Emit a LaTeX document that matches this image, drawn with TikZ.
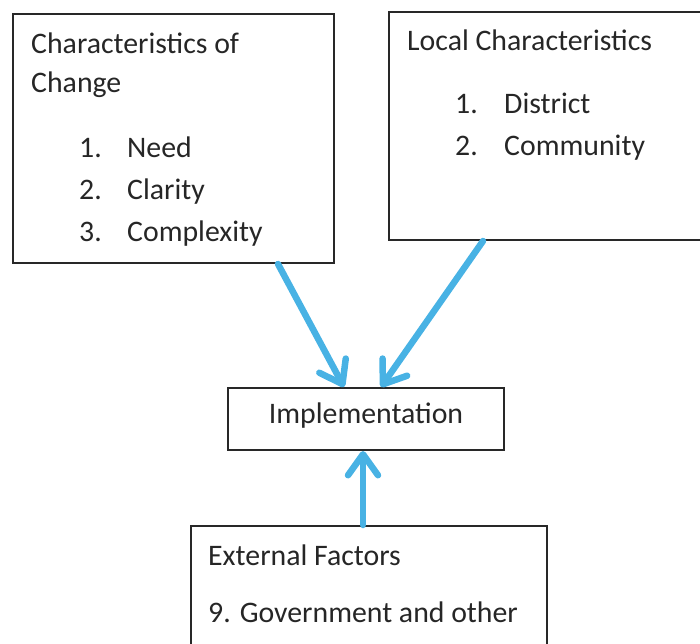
\documentclass[tikz,border=0pt]{standalone}
\usepackage{fontspec}
\setmainfont{Carlito}
\usetikzlibrary{arrows.meta}
\definecolor{arrowblue}{RGB}{72,178,228}
\definecolor{boxline}{RGB}{40,40,40}
\begin{document}
\begin{tikzpicture}[x=1pt,y=-1pt,
  box/.style={draw=boxline, line width=2pt, inner sep=0pt, anchor=north west},
  txt/.style={anchor=base west, inner sep=0pt, font=\fontsize{29.8}{35}\selectfont, text=black!85},
  flow/.style={draw=arrowblue, line width=6.5pt, line cap=round,
    -{Straight Barb[length=21pt,width=30pt,line cap=round,line join=round]}}]
\useasboundingbox (0,0) rectangle (700,643);

% boxes
\node[box, minimum width=321pt, minimum height=249pt] (chg) at (12,13) {};
\node[box, minimum width=314pt, minimum height=228pt] (loc) at (388,11) {};
\node[box, minimum width=276pt, minimum height=62pt] (impl) at (227,387) {};
\node[box, minimum width=356pt, minimum height=135pt] (ext) at (190,525) {};

% characteristics of change
\node[txt] (chgA) at (31,53) {Characteristics of};
\node[txt] (chgB) at (31,92) {Change};
\node[txt] (n1) at (79,157) {1.};
\node[txt] (t1) at (127,157) {Need};
\node[txt] (n2) at (79,199) {2.};
\node[txt] (t2) at (127,199) {Clarity};
\node[txt] (n3) at (79,241) {3.};
\node[txt] (t3) at (127,241) {Complexity};

% local characteristics
\node[txt] (locA) at (407,50) {Local Characteristics};
\node[txt] (m1) at (455,113) {1.};
\node[txt] (s1) at (504,113) {District};
\node[txt] (m2) at (455,155) {2.};
\node[txt] (s2) at (504,155) {Community};

% implementation
\node[anchor=base, inner sep=0pt, font=\fontsize{29.8}{35}\selectfont, text=black!85] (implT) at (366,423) {Implementation};

% external factors
\node[txt] (extA) at (208,565) {External Factors};
\node[txt] (extB) at (208,622) {9. Government and other};

% connectors
\draw[flow] ([xshift=104.5pt]chg.south) -- ([xshift=-22pt]impl.north);
\draw[flow] ([xshift=-63pt]loc.south) -- ([xshift=15pt]impl.north);
\draw[flow] ([xshift=-6pt]ext.north) -- ([xshift=-6pt]ext.north |- impl.south);
\end{tikzpicture}
\end{document}
